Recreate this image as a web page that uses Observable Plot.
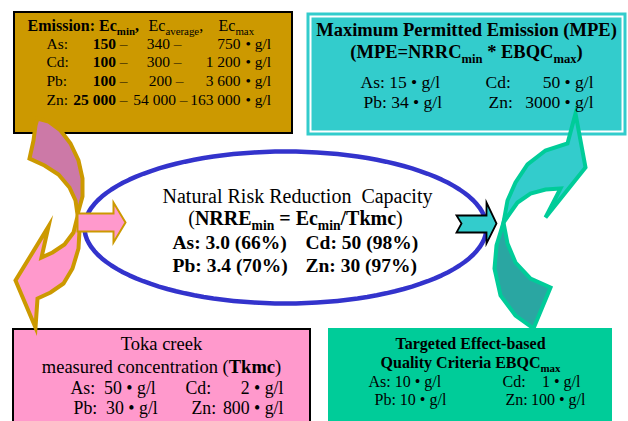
<!DOCTYPE html>
<html>
<head>
<meta charset="utf-8">
<script src="https://cdn.jsdelivr.net/npm/d3@7"></script>
<script src="https://cdn.jsdelivr.net/npm/@observablehq/plot@0.6"></script>
<style>
  html, body { margin: 0; padding: 0; background: #fff; }
  svg text { white-space: pre; }
</style>
</head>
<body>
<div id="chart"></div>
<script>
// ---- data (text content) ----
const metals = ["As", "Cd", "Pb", "Zn"];
const ecMin = ["150", "100", "100", "25 000"];
const ecAvg = ["340", "300", "200", "54 000"];
const ecMax = ["750", "1 200", "3 600", "163 000"];
const mpeValues = ["15", "50", "34", "3000"];     // As, Cd, Pb, Zn
const tkmcValues = ["50", "2", "30", "800"];
const ebqcValues = ["10", "1", "10", "100"];
const nrrcValues = ["3.0", "50", "3.4", "30"];
const nrrcPct = ["66%", "98%", "70%", "97%"];
const unit = "• g/l";

// ---- shape outlines (diagram geometry) ----
const mauveUp = [[37,118],[48,121],[60,130],[70,143],[78,160],[82,178],[82,196],[77,214],[75,200],[69,187],[58,174],[44,165],[29,158],[33,140],[35,125]];
const pinkDown = [[77,216],[73,232],[64,244],[52,252],[41,257],[48,226],[15,280],[35,327],[37,298],[50,292],[63,283],[72,268],[78,248],[79,230]];
const pinkSmall = [[77,213],[113,213],[113,202],[125,222],[113,242],[113,231],[77,231]];
const tealUp = [[503,222],[507,200],[515,182],[527,164],[545,150],[567,143],[575,113],[585,167],[545,217],[560,188],[545,189],[530,193],[517,202]];
const tealDown = [[503,222],[496,245],[494,268],[500,295],[515,315],[533,328],[550,287],[530,278],[515,262],[507,243]];
const tealSmall = [[456,215],[486,215],[486,202],[496,223],[486,243],[486,232],[456,232],[461,223]];
const ell = {cx: 285, cy: 227, rx: 201, ry: 76};
const ellipsePts = d3.range(0, 361, 3).map(a => [ell.cx + ell.rx * Math.cos(a * Math.PI / 180), ell.cy + ell.ry * Math.sin(a * Math.PI / 180)]);

const F = "Liberation Serif, Times New Roman, serif";
const rows2 = [0, 1]; // grid rows: [As, Cd], [Pb, Zn]

function poly(pts, fill, stroke, sw) {
  return Plot.line(pts, {x: d => d[0], y: d => d[1], curve: "linear-closed", fill, stroke, strokeWidth: sw, strokeLinejoin: "miter", strokeMiterlimit: 10});
}
function box(x1, x2, y1, y2, o) {
  return Plot.rect([0], {x1, x2, y1, y2, ...o});
}
function txt(items, o) {
  return Plot.text(items, {x: "x", y: "y", text: "t", fontFamily: F, fill: "#000", ...o});
}

// emission rows
const emY = [44, 62, 81, 100];
const emAvgEnd = [181, 181, 183, 187];
const emLabel = metals.map((m, i) => ({x: 46, y: emY[i], t: m + ":"}));
const emMin = metals.map((m, i) => ({x: 127, y: emY[i], t: "**" + ecMin[i] + "** –"}));
const emAvg = metals.map((m, i) => ({x: emAvgEnd[i], y: emY[i], t: ecAvg[i] + " –"}));
const emMax = metals.map((m, i) => ({x: 240, y: emY[i], t: ecMax[i]}));
const emUnit = metals.map((m, i) => ({x: 245, y: emY[i], t: unit}));
const emHead = [
  {x: 27, y: 25, t: "**Emission: Ec_{min},**"},
  {x: 148, y: 25, t: "Ec_{average},"},
  {x: 218, y: 25, t: "Ec_{max}"}
];

// MPE
const mpeTitle = [
  {x: 466, y: 30, t: "**Maximum Permitted Emission (MPE)**"},
  {x: 466, y: 52, t: "**(MPE=NRRC_{min} * EBQC_{max})**"}
];
const mpeY = [82, 102];
const mpeLeft = rows2.map(r => ({x: [360, 363][r], y: mpeY[r], t: metals[r * 2] + ": " + mpeValues[r * 2] + " " + unit}));
const mpeRLabel = rows2.map(r => ({x: [485, 488][r], y: mpeY[r], t: metals[r * 2 + 1] + ":"}));
const mpeRVal = rows2.map(r => ({x: 593, y: mpeY[r], t: mpeValues[r * 2 + 1] + " " + unit}));

// Toka
const tkTitle = [
  {x: 161, y: 344, t: "Toka creek"},
  {x: 161, y: 367, t: "measured concentration (**Tkmc**)"}
];
const tkY = [388, 408];
const tkLeft = rows2.map(r => ({x: [70, 73][r], y: tkY[r], t: metals[r * 2] + ":  " + tkmcValues[r * 2] + " " + unit}));
const tkRLabel = rows2.map(r => ({x: [185, 191][r], y: tkY[r], t: metals[r * 2 + 1] + ":"}));
const tkRVal = rows2.map(r => ({x: 283, y: tkY[r], t: tkmcValues[r * 2 + 1] + " " + unit}));

// EBQC
const ebTitle = [
  {x: 470, y: 343, t: "**Targeted Effect-based**"},
  {x: 470, y: 362, t: "**Quality Criteria EBQC_{max}**"}
];
const ebY = [381, 399];
const ebLeft = rows2.map(r => ({x: [368, 374][r], y: ebY[r], t: metals[r * 2] + ": " + ebqcValues[r * 2] + " " + unit}));
const ebRLabel = rows2.map(r => ({x: [502, 505][r], y: ebY[r], t: metals[r * 2 + 1] + ":"}));
const ebRVal = rows2.map(r => ({x: [580, 585][r], y: ebY[r], t: ebqcValues[r * 2 + 1] + " " + unit}));

// NRRC ellipse
const nrTitle = [
  {x: 297, y: 196, t: "Natural Risk Reduction  Capacity"},
  {x: 295, y: 218, t: "(**NRRE_{min} = Ec_{min}/Tkmc**)"}
];
const nrY = [242, 265];
const nrLeft = rows2.map(r => ({x: 172, y: nrY[r], t: "**" + metals[r * 2] + ": " + nrrcValues[r * 2] + " (" + nrrcPct[r * 2] + ")**"}));
const nrRight = rows2.map(r => ({x: 305, y: nrY[r], t: "**" + metals[r * 2 + 1] + ": " + nrrcValues[r * 2 + 1] + " (" + nrrcPct[r * 2 + 1] + ")**"}));

const chart = Plot.plot({
  width: 628, height: 421, margin: 0,
  x: {domain: [0, 628], range: [0, 628], axis: null},
  y: {domain: [0, 421], range: [0, 421], axis: null},
  style: {background: "#fff", fontFamily: F},
  marks: [
    // boxes
    box(14, 292, 12, 133, {fill: "#CC9900", stroke: "#000", strokeWidth: 2}),
    box(307, 626, 13, 135, {fill: "#33CCCC", stroke: "#33CCCC", strokeWidth: 1}),
    box(310.5, 622.5, 16.5, 131.5, {fill: "none", stroke: "#fff", strokeWidth: 2}),
    box(13, 310, 329, 430, {fill: "#FF99CC", stroke: "#000", strokeWidth: 2}),
    box(328, 612, 328, 430, {fill: "#00CC99"}),
    // ellipse
    Plot.line(ellipsePts, {x: d => d[0], y: d => d[1], curve: "linear-closed", stroke: "#3333CC", strokeWidth: 4.5}),
    // curved arrows
    poly(mauveUp, "#CC79A7", "#CC9900", 4),
    poly(pinkDown, "#FF99CC", "#CC9900", 4),
    poly(tealDown, "#2AA6A2", "#00CC99", 4),
    poly(tealUp, "#33CCCC", "#00CC99", 4),
    // straight arrows
    poly(pinkSmall, "#FF99CC", "#CC9900", 2),
    poly(tealSmall, "#33CCCC", "#000", 1.8),
    // texts
    txt(emHead, {textAnchor: "start", fontSize: 16}),
    txt(emLabel, {textAnchor: "start", fontSize: 15.5}),
    txt(emMin, {textAnchor: "end", fontSize: 15.5}),
    txt(emAvg, {textAnchor: "end", fontSize: 15.5}),
    txt(emMax, {textAnchor: "end", fontSize: 15.5}),
    txt(emUnit, {textAnchor: "start", fontSize: 15.5}),
    txt(mpeTitle, {textAnchor: "middle", fontSize: 18.5}),
    txt(mpeLeft, {textAnchor: "start", fontSize: 17.5}),
    txt(mpeRLabel, {textAnchor: "start", fontSize: 17.5}),
    txt(mpeRVal, {textAnchor: "end", fontSize: 17.5}),
    txt(tkTitle, {textAnchor: "middle", fontSize: 18.5}),
    txt(tkLeft, {textAnchor: "start", fontSize: 17.8}),
    txt(tkRLabel, {textAnchor: "start", fontSize: 17.8}),
    txt(tkRVal, {textAnchor: "end", fontSize: 17.8}),
    txt(ebTitle, {textAnchor: "middle", fontSize: 16}),
    txt(ebLeft, {textAnchor: "start", fontSize: 16}),
    txt(ebRLabel, {textAnchor: "start", fontSize: 16}),
    txt(ebRVal, {textAnchor: "end", fontSize: 16}),
    txt(nrTitle, {textAnchor: "middle", fontSize: 20}),
    txt(nrLeft, {textAnchor: "start", fontSize: 19.5}),
    txt(nrRight, {textAnchor: "start", fontSize: 19.5})
  ]
});
document.getElementById("chart").appendChild(chart);

// rich text: **bold** and _{subscript}
const NS = "http://www.w3.org/2000/svg";
chart.querySelectorAll("text").forEach(t => {
  t.setAttributeNS("http://www.w3.org/XML/1998/namespace", "xml:space", "preserve");
  const raw = t.textContent;
  if (!/\*\*|_\{/.test(raw)) return;
  const fs = parseFloat(getComputedStyle(t).fontSize) || 16;
  const shift = fs * 0.25;
  t.textContent = "";
  let bold = false, sub = false, buf = "", pending = 0;
  const flush = () => {
    if (!buf) return;
    const s = document.createElementNS(NS, "tspan");
    s.textContent = buf;
    s.setAttribute("font-weight", bold ? "bold" : "normal");
    if (sub) s.setAttribute("font-size", (fs * 0.68).toFixed(2));
    if (pending) { s.setAttribute("dy", pending.toFixed(2)); pending = 0; }
    t.appendChild(s);
    buf = "";
  };
  for (let i = 0; i < raw.length; i++) {
    if (raw.startsWith("**", i)) { flush(); bold = !bold; i++; }
    else if (raw.startsWith("_{", i)) { flush(); sub = true; pending += shift; i++; }
    else if (raw[i] === "}" && sub) { flush(); sub = false; pending -= shift; }
    else buf += raw[i];
  }
  flush();
});
</script>
</body>
</html>
